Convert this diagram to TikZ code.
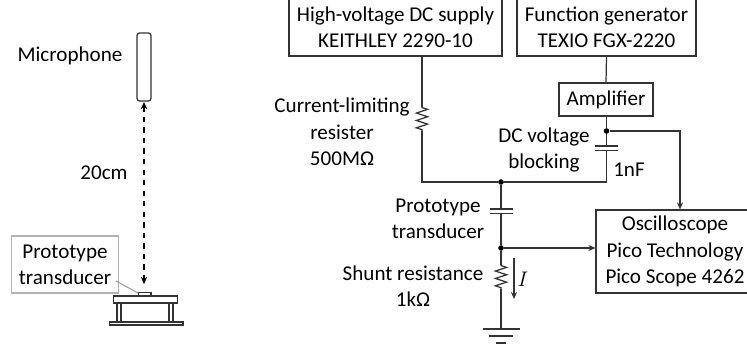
\documentclass[tikz,border=0pt]{standalone}
\usepackage{fontspec}
\setmainfont{Carlito}
\usetikzlibrary{arrows.meta,decorations.pathmorphing}
\tikzset{
  wire/.style={draw=black!80,line width=0.7pt},
  feed/.style={wire,-{Stealth[length=4pt,width=3.5pt]}},
  resistorpart/.style={wire,decorate,decoration={zigzag,segment length=4.2pt,amplitude=3.2pt,pre length=0.3pt,post length=0.3pt}},
  plainlabel/.style={align=center,inner sep=0pt,font=\fontsize{12pt}{15pt}\selectfont},
  devicebox/.style={plainlabel,draw=black!80,line width=0.7pt},
  dotnode/.style={circle,fill=black,inner sep=0pt,minimum size=3.2pt},
  solidpart/.style={draw=black!80,line width=0.7pt,fill=white}
}
\begin{document}
\begin{tikzpicture}[x=0.02cm,y=-0.02cm]
\useasboundingbox (0,0) rectangle (747,348);
% left side: setup
\draw[solidpart,rounded corners=1.5pt] (137,33) rectangle (151,101);
\coordinate (micend) at (144,102);
\coordinate (stageend) at (144,284);
\draw[dashed,line width=0.7pt,{Stealth[length=4pt,width=3.5pt]}-{Stealth[length=4pt,width=3.5pt]}] (micend) -- (stageend);
\node[plainlabel] (miclabel) at (70,56) {Microphone};
\node[plainlabel] (distlabel) at (104,173) {20cm};
\node[plainlabel,draw=black!30,line width=0.6pt,minimum width=2.14cm,minimum height=1.14cm] (protolabel) at (65,264.5) {Prototype\\transducer};
\coordinate (leaderstart) at (116,281);
\coordinate (leaderend) at (138,293);
\draw[black!45,line width=0.5pt] (leaderstart) -- (leaderend);
\draw[solidpart] (138.5,292.5) rectangle (151,296);
\draw[solidpart] (113.5,296) rectangle (177.5,303);
\foreach \x in {117,169} \draw[solidpart] (\x,303) rectangle (\x+4,322);
\draw[solidpart] (109.5,322) rectangle (183,325);
% right side: boxes
\node[devicebox,minimum width=4.26cm,minimum height=1.14cm] (supply) at (395.5,27.5) {High-voltage DC supply\\KEITHLEY 2290-10};
\node[devicebox,minimum width=3.58cm,minimum height=1.14cm] (generator) at (606.5,27.5) {Function generator\\TEXIO FGX-2220};
\node[devicebox,minimum width=1.88cm,minimum height=0.66cm] (amp) at (606,99.5) {Amplifier};
\node[devicebox,minimum width=3.16cm,minimum height=1.66cm] (scope) at (675,251.5) {Oscilloscope\\Pico Technology\\Pico Scope 4262};
% junctions
\node[dotnode] (ampdot) at (606.5,131) {};
\node[dotnode] (topdot) at (501,182) {};
\node[dotnode] (middot) at (501,248) {};
\coordinate (corner) at (422,182);
\coordinate (capcorner) at (606.5,182);
\coordinate (resatop) at (422,107);
\coordinate (resabot) at (422,131);
\coordinate (resbtop) at (501,265);
\coordinate (resbbot) at (501,289);
\coordinate (groundtop) at (501,329);
% wires
\draw[wire] (supply.south -| resatop) -- (resatop);
\draw[resistorpart] (resatop) -- (resabot);
\draw[wire] (resabot) -- (corner) -- (topdot);
\draw[wire] (generator.south) -- (amp.north);
\draw[wire] (amp.south -| ampdot) -- (ampdot) -- (606.5,146);
\draw[wire] (606.5,150.5) -- (capcorner) -- (topdot);
\draw[feed] (ampdot) -| (scope.north -| 680,0);
\draw[wire] (topdot) -- (501,209);
\draw[wire] (501,213.5) -- (middot);
\draw[wire] (middot) -- (resbtop);
\draw[resistorpart] (resbtop) -- (resbbot);
\draw[wire] (resbbot) -- (groundtop);
\draw[feed] (middot) -- (middot -| scope.west);
% capacitor plates and ground
\foreach \y in {146,150.5} \draw[wire] (595,\y) -- (618,\y);
\foreach \y in {209,213.5} \draw[wire] (489.5,\y) -- (512.5,\y);
\foreach \y/\w in {329/18.5,336/12,343/5} \draw[wire] (501-\w,\y) -- (501+\w,\y);
\coordinate (curtop) at (514,258);
\coordinate (curbot) at (514,299);
\draw[feed] (curtop) -- (curbot);
% labels
\node[plainlabel] (reslabel) at (342,132) {Current-limiting\\resister\\500MΩ};
\node[plainlabel] (dclabel) at (544,150) {DC voltage\\blocking};
\node[plainlabel] (nflabel) at (629,170) {1nF};
\node[plainlabel] (protoname) at (438,218.5) {Prototype\\transducer};
\node[plainlabel] (shuntlabel) at (413,286) {Shunt resistance\\1kΩ};
\node[plainlabel] (curlabel) at (523,279) {$I$};
\end{tikzpicture}
\end{document}
